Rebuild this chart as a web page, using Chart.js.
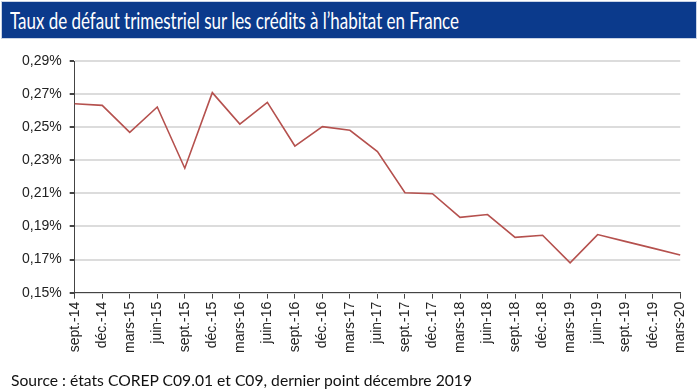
<!DOCTYPE html>
<html>
<head>
<meta charset="utf-8">
<script src="https://cdn.jsdelivr.net/npm/chart.js@4"></script>
<style>
  html, body { margin: 0; padding: 0; background: #fff; }
  #page { position: relative; width: 700px; height: 391px; overflow: hidden; }
  #title {
    position: absolute; left: 1px; top: 1px; width: 696px; height: 38px;
    background: #0b3a8c; border: 1px solid #c9d3e6; box-sizing: border-box;
  }
  #title span, #source span {
    position: absolute; white-space: nowrap; transform-origin: 0 50%;
    font-family: Lato, "Open Sans", sans-serif;
  }
  #title span { left: 8px; top: 0; line-height: 36px; font-size: 23px; color: #fff; }
  #source { position: absolute; left: 11px; top: 370px; width: 600px; height: 20px; }
  #source span { left: 0; top: 0; line-height: 20px; font-size: 15.5px; color: #111; }
  #chart { position: absolute; left: 0; top: 0; width: 700px; height: 391px; }
</style>
</head>
<body>
<div id="page">
  <div id="title"><span data-w="449">Taux de défaut trimestriel sur les crédits à l’habitat en France</span></div>
  <div id="chart"><canvas id="defaut_chart"></canvas></div>
  <div id="source"><span data-w="461">Source : états COREP C09.01 et C09, dernier point décembre 2019</span></div>
</div>
<script>
// quarters, sept. 2014 -> mars 2020
const quarters = [
  'sept.-14', 'déc.-14', 'mars-15', 'juin-15', 'sept.-15', 'déc.-15',
  'mars-16', 'juin-16', 'sept.-16', 'déc.-16', 'mars-17', 'juin-17',
  'sept.-17', 'déc.-17', 'mars-18', 'juin-18', 'sept.-18', 'déc.-18',
  'mars-19', 'juin-19', 'sept.-19', 'déc.-19', 'mars-20'
];

// default rate, in %
const default_rate = [
  0.2642, 0.2632, 0.2469, 0.2622, 0.2252, 0.2709,
  0.2519, 0.2650, 0.2386, 0.2503, 0.2481, 0.2352,
  0.2104, 0.2098, 0.1955, 0.1972, 0.1834, 0.1847,
  0.1680, 0.1851, 0.1810, 0.1769, 0.1728
];

// y axis ticks
const y_min = 0.15;
const y_max = 0.29;
const y_step = 0.02;

// squeeze the Calibri-like texts to the width they have in the original
document.querySelectorAll('span[data-w]').forEach(el => {
  const w = el.getBoundingClientRect().width;
  el.style.transform = `scaleX(${el.dataset.w / w})`;
});

const axis_font = { family: '"Liberation Sans", Arial, sans-serif', size: 14 };

const defaut_chart_data = {
  labels: quarters,
  datasets: [{
    label: 'Taux de défaut',
    data: default_rate,
    borderColor: '#b5514e',
    borderWidth: 1.6,
    pointRadius: 0,
    tension: 0,
    fill: false
  }]
};

const defaut_chart_config = {
  type: 'line',
  data: defaut_chart_data,
  options: {
    responsive: true,
    maintainAspectRatio: false,
    animation: false,
    layout: {
      padding: { top: 61, left: 14, right: 7, bottom: 35 }
    },
    plugins: {
      legend: { display: false },
      tooltip: { enabled: false }
    },
    scales: {
      x: {
        offset: false,
        grid: {
          drawOnChartArea: false,
          drawTicks: true,
          tickLength: 6,
          tickColor: '#444'
        },
        border: { color: '#444', width: 1 },
        ticks: {
          autoSkip: false,
          maxRotation: 90,
          minRotation: 90,
          color: '#222',
          padding: 3,
          font: axis_font
        }
      },
      y: {
        min: y_min,
        max: y_max,
        grid: {
          color: '#dcdcdc',
          lineWidth: 2,
          tickLength: 5,
          tickColor: '#444'
        },
        border: { color: '#444', width: 1 },
        ticks: {
          stepSize: y_step,
          color: '#222',
          padding: 8,
          font: axis_font,
          callback: v => v.toFixed(2).replace('.', ',') + '%'
        }
      }
    }
  }
};

const defaut_chart = new Chart(
  document.getElementById('defaut_chart'),
  defaut_chart_config
);
</script>
</body>
</html>
